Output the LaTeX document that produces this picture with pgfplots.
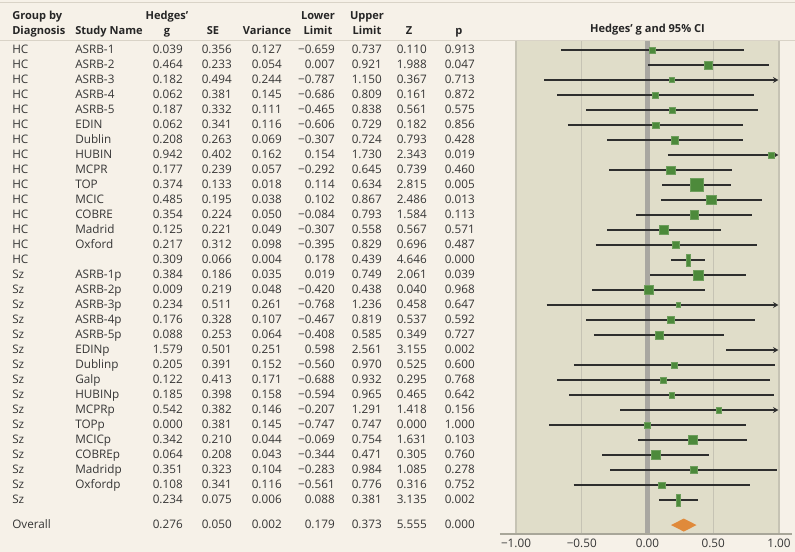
\documentclass[border=0pt]{standalone}
\usepackage{pgfplots}
\pgfplotsset{compat=1.18}
\usepackage{pgfplotstable}
\usepackage{fontspec}
\setmainfont{Open Sans}
\usetikzlibrary{arrows.meta}

\definecolor{cream}{HTML}{F6F1E8}
\definecolor{panel}{HTML}{E0DDC9}
\definecolor{gridc}{HTML}{C6C3B4}
\definecolor{zeroc}{HTML}{A9A7A1}
\definecolor{rulec}{HTML}{D9D3C7}
\definecolor{ciline}{HTML}{2E2E2E}
\definecolor{sqgreen}{HTML}{4D8A3B}
\definecolor{sqedge}{HTML}{6E9E5C}
\definecolor{diam}{HTML}{E08A3B}
\definecolor{tabtext}{HTML}{363636}

\newcommand\tabfont{\fontsize{8.8}{10}\selectfont}
\newcommand\hdrfont{\fontsize{8.3}{10}\selectfont\bfseries}

\tikzset{hdr/.style={inner sep=0pt, anchor=mid, font=\hdrfont, text=black!85}}

% print a leading minus as a real minus sign
\newcommand\signed[1]{\edef\sgtmp{#1}\expandafter\signedi\sgtmp\relax}
\def\signedi#1#2\relax{\ifx-#1−\else#1\fi#2}

% kind: 0 study, 1 subgroup summary, 2 overall; sz = square side in px
\pgfplotstableread{
row kind grp name g se var lo hi z p sz
0 0 HC ASRB-1 0.039 0.356 0.127 -0.659 0.737 0.110 0.913 6.1
1 0 HC ASRB-2 0.464 0.233 0.054 0.007 0.921 1.988 0.047 8.3
2 0 HC ASRB-3 0.182 0.494 0.244 -0.787 1.150 0.367 0.713 5.0
3 0 HC ASRB-4 0.062 0.381 0.145 -0.686 0.809 0.161 0.872 5.9
4 0 HC ASRB-5 0.187 0.332 0.111 -0.465 0.838 0.561 0.575 6.4
5 0 HC EDIN 0.062 0.341 0.116 -0.606 0.729 0.182 0.856 6.3
6 0 HC Dublin 0.208 0.263 0.069 -0.307 0.724 0.793 0.428 7.6
7 0 HC HUBIN 0.942 0.402 0.162 0.154 1.730 2.343 0.019 5.7
8 0 HC MCPR 0.177 0.239 0.057 -0.292 0.645 0.739 0.460 8.1
9 0 HC TOP 0.374 0.133 0.018 0.114 0.634 2.815 0.005 13.0
10 0 HC MCIC 0.485 0.195 0.038 0.102 0.867 2.486 0.013 9.5
11 0 HC COBRE 0.354 0.224 0.050 -0.084 0.793 1.584 0.113 8.5
12 0 HC Madrid 0.125 0.221 0.049 -0.307 0.558 0.567 0.571 8.6
13 0 HC Oxford 0.217 0.312 0.098 -0.395 0.829 0.696 0.487 6.7
14 1 HC {} 0.309 0.066 0.004 0.178 0.439 4.646 0.000 0
15 0 Sz ASRB-1p 0.384 0.186 0.035 0.019 0.749 2.061 0.039 9.9
16 0 Sz ASRB-2p 0.009 0.219 0.048 -0.420 0.438 0.040 0.968 8.7
17 0 Sz ASRB-3p 0.234 0.511 0.261 -0.768 1.236 0.458 0.647 4.9
18 0 Sz ASRB-4p 0.176 0.328 0.107 -0.467 0.819 0.537 0.592 6.5
19 0 Sz ASRB-5p 0.088 0.253 0.064 -0.408 0.585 0.349 0.727 7.8
20 0 Sz EDINp 1.579 0.501 0.251 0.598 2.561 3.155 0.002 5.0
21 0 Sz Dublinp 0.205 0.391 0.152 -0.560 0.970 0.525 0.600 5.8
22 0 Sz Galp 0.122 0.413 0.171 -0.688 0.932 0.295 0.768 5.6
23 0 Sz HUBINp 0.185 0.398 0.158 -0.594 0.965 0.465 0.642 5.7
24 0 Sz MCPRp 0.542 0.382 0.146 -0.207 1.291 1.418 0.156 5.9
25 0 Sz TOPp 0.000 0.381 0.145 -0.747 0.747 0.000 1.000 5.9
26 0 Sz MCICp 0.342 0.210 0.044 -0.069 0.754 1.631 0.103 9.0
27 0 Sz COBREp 0.064 0.208 0.043 -0.344 0.471 0.305 0.760 9.0
28 0 Sz Madridp 0.351 0.323 0.104 -0.283 0.984 1.085 0.278 6.5
29 0 Sz Oxfordp 0.108 0.341 0.116 -0.561 0.776 0.316 0.752 6.3
30 1 Sz {} 0.234 0.075 0.006 0.088 0.381 3.135 0.002 0
31.67 2 Overall {} 0.276 0.050 0.002 0.179 0.373 5.555 0.000 0
}\forest

\begin{document}
\begin{tikzpicture}
\fill[cream] (-387pt,-13.5pt) rectangle (209.25pt,400.5pt);
\begin{axis}[
    at={(0pt,0pt)}, anchor=south west,
    scale only axis,
    width=197.25pt, height=369.75pt,
    xmin=-1, xmax=1,
    ymin=-0.6, ymax=32.2667,
    y dir=reverse,
    clip=false,
    axis background/.style={fill=panel},
    axis line style={draw=none},
    xtick={-1,-0.5,0,0.5,1},
    xticklabels={−1.00,−0.50,0.00,0.50,1.00},
    xticklabel style={font=\tabfont, text=tabtext},
    ytick=\empty,
    major tick length=0pt,
    xmajorgrids,
    grid style={gridc, line width=0.9pt},
    tabcol/.style={draw=none, mark=none, nodes near coords,
        point meta=explicit symbolic,
        every node near coord/.style={anchor=mid east, inner sep=0pt,
            font=\tabfont, text=tabtext}},
  ]

% zero line and rules
\draw[zeroc, line width=3.2pt] (axis cs:0,-0.6) -- (axis cs:0,32.2667);
\draw[rulec, line width=0.9pt] (axis cs:-4.924,-0.633) -- (axis cs:1.1217,-0.633);
\draw[rulec, line width=0.6pt] (axis cs:-4.924,-3.2) -- (axis cs:1.1217,-3.2);
\draw[gridc!85!black, line width=0.9pt] (axis cs:-1.1217,32.2667) -- (axis cs:1.0989,32.2667);

% confidence intervals
\addplot[ciline, line width=1.2pt, mark=none,
    restrict expr to domain={\thisrow{hi}+10*(\thisrow{kind}==2)}{-10:1},
    quiver={u=\thisrow{hi}-\thisrow{lo}, v=0}]
  table[x=lo, y=row] {\forest};
\addplot[ciline, line width=1.2pt, mark=none,
    -{Stealth[length=4pt, width=4.5pt]},
    restrict expr to domain={\thisrow{hi}}{1.0001:10},
    quiver={u=0.995-\thisrow{lo}, v=0}]
  table[x=lo, y=row] {\forest};

% study squares, side
\addplot[scatter, only marks, mark=square*,
    scatter/use mapped color={draw=sqedge, fill=sqgreen},
    restrict expr to domain={10*\thisrow{kind}+\thisrow{g}}{-1:1},
    visualization depends on={0.375*\thisrow{sz} \as \msz},
    scatter/@pre marker code/.append style={/tikz/mark size=\msz pt, /tikz/line width=0.4pt}]
  table[x=g, y=row] {\forest};

% subgroup summaries
\addplot[only marks, mark=square*, mark size=4.5pt,
    mark options={xscale=0.33, fill=sqgreen, draw=sqedge, line width=0.4pt},
    restrict expr to domain={\thisrow{kind}}{1:1}]
  table[x=g, y=row] {\forest};

% overall diamond
\addplot[fill=diam, draw=none] coordinates {
  (0.179,31.67) (0.276,31.237) (0.373,31.67) (0.276,32.103)} -- cycle;

% table columns
\addplot[tabcol, every node near coord/.append style={anchor=mid west}]
  table[x expr=-4.8327, y=row, meta=grp] {\forest};
\addplot[tabcol, every node near coord/.append style={anchor=mid west}]
  table[x expr=-4.3536, y=row, meta=name] {\forest};
\addplot[tabcol, nodes near coords={\signed{\pgfplotspointmeta}}]
  table[x expr=-3.5323, y=row, meta=g] {\forest};
\addplot[tabcol, nodes near coords={\signed{\pgfplotspointmeta}}]
  table[x expr=-3.1597, y=row, meta=se] {\forest};
\addplot[tabcol, nodes near coords={\signed{\pgfplotspointmeta}}]
  table[x expr=-2.7795, y=row, meta=var] {\forest};
\addplot[tabcol, nodes near coords={\signed{\pgfplotspointmeta}}]
  table[x expr=-2.3764, y=row, meta=lo] {\forest};
\addplot[tabcol, nodes near coords={\signed{\pgfplotspointmeta}}]
  table[x expr=-2.0190, y=row, meta=hi] {\forest};
\addplot[tabcol, nodes near coords={\signed{\pgfplotspointmeta}}]
  table[x expr=-1.6768, y=row, meta=z] {\forest};
\addplot[tabcol, nodes near coords={\signed{\pgfplotspointmeta}}]
  table[x expr=-1.3118, y=row, meta=p] {\forest};

% headers
\node[hdr, anchor=mid west] at (axis cs:-4.8327,-2.267) {Group by};
\node[hdr, anchor=mid west] at (axis cs:-4.8327,-1.267) {Diagnosis};
\node[hdr, anchor=mid west] at (axis cs:-4.3536,-1.267) {Study Name};
\node[hdr] at (axis cs:-3.654,-2.267) {Hedges’};
\node[hdr] at (axis cs:-3.654,-1.267) {g};
\node[hdr] at (axis cs:-3.304,-1.267) {SE};
\node[hdr] at (axis cs:-2.8935,-1.267) {Variance};
\node[hdr] at (axis cs:-2.5057,-2.267) {Lower};
\node[hdr] at (axis cs:-2.5057,-1.267) {Limit};
\node[hdr] at (axis cs:-2.1331,-2.267) {Upper};
\node[hdr] at (axis cs:-2.1331,-1.267) {Limit};
\node[hdr] at (axis cs:-1.8137,-1.267) {Z};
\node[hdr] at (axis cs:-1.4335,-1.267) {p};
\node[hdr] at (axis cs:0,-1.4) {Hedges’ g and 95\% CI};
\end{axis}
\pgfresetboundingbox
\useasboundingbox (-387pt,-13.5pt) rectangle (209.25pt,400.5pt);
\end{tikzpicture}
\end{document}
